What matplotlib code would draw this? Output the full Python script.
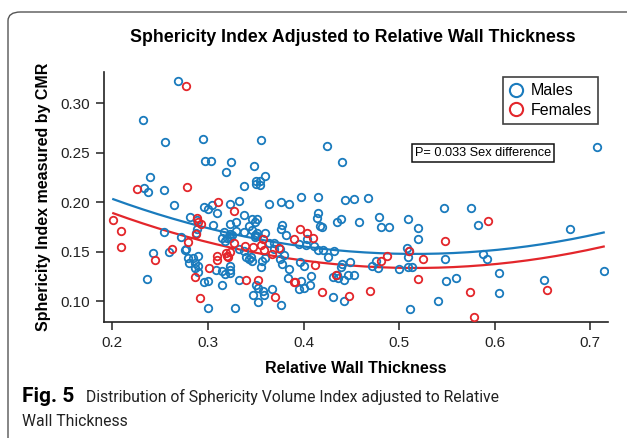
import numpy as np
import matplotlib
matplotlib.use("Agg")
from matplotlib import pyplot as plt
from matplotlib.patches import FancyBboxPatch

# Relative wall thickness / sphericity index
male_rwt = [0.269, 0.232, 0.255, 0.295, 0.356, 0.297, 0.303, 0.324, 0.348, 0.319,
            0.360, 0.239, 0.350, 0.354, 0.350, 0.355, 0.338, 0.233, 0.237, 0.254,
            0.425, 0.440, 0.707, 0.376, 0.397, 0.415, 0.443, 0.453, 0.467, 0.385,
            0.264, 0.296, 0.300, 0.304, 0.309, 0.323, 0.333, 0.364, 0.281, 0.289,
            0.289, 0.288, 0.305, 0.338, 0.346, 0.349, 0.351, 0.323, 0.329, 0.317,
            0.323, 0.329, 0.320, 0.315, 0.318, 0.323, 0.325, 0.338, 0.343, 0.346,
            0.349, 0.351, 0.360, 0.349, 0.351, 0.254, 0.272, 0.276, 0.277, 0.259,
            0.243, 0.236, 0.333, 0.338, 0.340, 0.345, 0.343, 0.346, 0.364, 0.369,
            0.369, 0.375, 0.357, 0.356, 0.360, 0.323, 0.323, 0.323, 0.318, 0.315,
            0.308, 0.279, 0.284, 0.290, 0.280, 0.286, 0.290, 0.286, 0.290, 0.296,
            0.300, 0.315, 0.333, 0.350, 0.352, 0.358, 0.359, 0.347, 0.352, 0.367,
            0.376, 0.300, 0.328, 0.376, 0.377, 0.382, 0.404, 0.395, 0.403, 0.411,
            0.415, 0.420, 0.432, 0.426, 0.415, 0.414, 0.417, 0.419, 0.435, 0.439,
            0.458, 0.479, 0.481, 0.489, 0.509, 0.520, 0.520, 0.547, 0.575, 0.583,
            0.679, 0.508, 0.510, 0.509, 0.476, 0.478, 0.472, 0.500, 0.509, 0.514,
            0.380, 0.375, 0.377, 0.385, 0.384, 0.395, 0.400, 0.397, 0.407, 0.408,
            0.400, 0.396, 0.440, 0.439, 0.449, 0.431, 0.436, 0.442, 0.447, 0.453,
            0.435, 0.431, 0.442, 0.511, 0.541, 0.549, 0.559, 0.548, 0.588, 0.592,
            0.604, 0.604, 0.652, 0.714]
male_si = [0.323, 0.283, 0.261, 0.264, 0.263, 0.242, 0.242, 0.241, 0.237, 0.231,
           0.227, 0.226, 0.222, 0.222, 0.218, 0.217, 0.216, 0.214, 0.210, 0.212,
           0.257, 0.241, 0.256, 0.200, 0.205, 0.205, 0.202, 0.203, 0.204, 0.198,
           0.197, 0.195, 0.193, 0.197, 0.189, 0.198, 0.201, 0.198, 0.185, 0.182,
           0.173, 0.169, 0.177, 0.187, 0.183, 0.180, 0.183, 0.178, 0.180, 0.170,
           0.168, 0.171, 0.164, 0.164, 0.161, 0.164, 0.167, 0.170, 0.176, 0.172,
           0.167, 0.169, 0.169, 0.165, 0.166, 0.170, 0.165, 0.152, 0.153, 0.150,
           0.149, 0.123, 0.153, 0.151, 0.145, 0.145, 0.143, 0.141, 0.159, 0.159,
           0.153, 0.153, 0.141, 0.135, 0.144, 0.136, 0.132, 0.129, 0.128, 0.131,
           0.132, 0.144, 0.144, 0.146, 0.139, 0.139, 0.136, 0.134, 0.130, 0.119,
           0.121, 0.116, 0.122, 0.116, 0.113, 0.110, 0.106, 0.106, 0.099, 0.112,
           0.096, 0.093, 0.093, 0.173, 0.177, 0.167, 0.163, 0.158, 0.157, 0.156,
           0.152, 0.152, 0.151, 0.145, 0.189, 0.184, 0.176, 0.175, 0.180, 0.183,
           0.180, 0.185, 0.175, 0.175, 0.183, 0.174, 0.163, 0.194, 0.194, 0.177,
           0.173, 0.154, 0.151, 0.145, 0.141, 0.134, 0.136, 0.133, 0.135, 0.135,
           0.147, 0.143, 0.138, 0.133, 0.124, 0.112, 0.113, 0.121, 0.116, 0.126,
           0.136, 0.140, 0.138, 0.135, 0.140, 0.125, 0.124, 0.122, 0.127, 0.127,
           0.127, 0.104, 0.100, 0.092, 0.100, 0.121, 0.124, 0.143, 0.148, 0.143,
           0.129, 0.108, 0.122, 0.131]

female_rwt = [0.277, 0.278, 0.226, 0.311, 0.327, 0.289, 0.290, 0.293, 0.288, 0.201,
              0.209, 0.209, 0.245, 0.262, 0.279, 0.327, 0.339, 0.347, 0.356, 0.359,
              0.358, 0.367, 0.374, 0.309, 0.310, 0.320, 0.321, 0.323, 0.319, 0.301,
              0.286, 0.340, 0.352, 0.370, 0.292, 0.396, 0.404, 0.410, 0.390, 0.390,
              0.391, 0.412, 0.419, 0.434, 0.448, 0.510, 0.481, 0.487, 0.525, 0.520,
              0.470, 0.548, 0.593, 0.574, 0.578, 0.655]
female_si = [0.317, 0.215, 0.213, 0.200, 0.191, 0.184, 0.180, 0.178, 0.168, 0.182,
             0.171, 0.155, 0.142, 0.153, 0.160, 0.159, 0.156, 0.155, 0.157, 0.152,
             0.163, 0.148, 0.154, 0.146, 0.142, 0.146, 0.145, 0.150, 0.149, 0.134,
             0.125, 0.122, 0.122, 0.104, 0.103, 0.173, 0.169, 0.164, 0.163, 0.120,
             0.119, 0.137, 0.109, 0.127, 0.105, 0.151, 0.141, 0.146, 0.143, 0.123,
             0.110, 0.161, 0.181, 0.109, 0.084, 0.111]

blue = '#1a7bbd'
red = '#e3262b'
plt.rcParams['font.family'] = ['Liberation Sans', 'DejaVu Sans']
cap_font = ['Roboto', 'DejaVu Sans']

xm, ym = np.array(male_rwt), np.array(male_si)
xf, yf = np.array(female_rwt), np.array(female_si)

# quadratic fit with a sex offset
xa = np.concatenate([xm, xf])
ya = np.concatenate([ym, yf])
sex = np.concatenate([np.zeros(len(xm)), np.ones(len(xf))])
A = np.column_stack([np.ones_like(xa), xa, xa ** 2, sex])
coef = np.linalg.lstsq(A, ya, rcond=None)[0]
xs = np.linspace(xa.min(), xa.max(), 200)
fit_m = coef[0] + coef[1] * xs + coef[2] * xs ** 2
fit_f = fit_m + coef[3]

fig = plt.figure(figsize=(6.27, 4.38), dpi=100)
fig.patches.append(FancyBboxPatch((8 / 627, -0.2), 1.2, 1.2 - 12 / 438,
                                  boxstyle='round,pad=0,rounding_size=0.02',
                                  transform=fig.transFigure, fill=False,
                                  edgecolor='#555555', linewidth=1.0))

ax = fig.add_axes([104 / 627, 116.3 / 438, 504 / 627, 249.7 / 438])
ax.plot(xs, fit_m, color=blue, lw=1.6, zorder=2)
ax.plot(xs, fit_f, color=red, lw=1.6, zorder=2)
ax.plot(xm, ym, 'o', mfc='none', mec=blue, mew=1.3, ms=5.4, zorder=3)
ax.plot(xf, yf, 'o', mfc='none', mec=red, mew=1.3, ms=5.4, zorder=3)

ax.set_xlim(0.1913, 0.7185)
ax.set_ylim(0.0794, 0.3316)
ax.set_xticks([0.2, 0.3, 0.4, 0.5, 0.6, 0.7])
ax.set_xticklabels(['0.2', '0.3', '0.4', '0.5', '0.6', '0.7'])
ax.set_yticks([0.10, 0.15, 0.20, 0.25, 0.30])
ax.set_yticklabels(['0.10', '0.15', '0.20', '0.25', '0.30'])
for s in ['top', 'right']:
    ax.spines[s].set_visible(False)
for s in ['left', 'bottom']:
    ax.spines[s].set_linewidth(1.2)
    ax.spines[s].set_color('#222222')
ax.tick_params(direction='out', length=6, width=1.1, labelsize=11,
               colors='#222222', pad=4)

ax.set_xlabel('Relative Wall Thickness', fontsize=11.5, fontweight='bold', labelpad=8)
ax.set_ylabel('Sphericity Index measured by CMR', fontsize=11.5, fontweight='bold',
              labelpad=7)
fig.text(353 / 627, 1 - 37 / 438, 'Sphericity Index Adjusted to Relative Wall Thickness',
         ha='center', va='center', fontsize=12.8, fontweight='bold')

h1, = ax.plot([], [], 'o', mfc='none', mec=blue, mew=1.5, ms=9.5)
h2, = ax.plot([], [], 'o', mfc='none', mec=red, mew=1.5, ms=9.5)
leg = ax.legend([h1, h2], ['Males', 'Females'], loc='upper right',
                bbox_to_anchor=(0.99, 1.0), fontsize=11.5, frameon=True,
                fancybox=False, handlelength=0.8, handletextpad=0.5,
                borderpad=0.4, labelspacing=0.3, borderaxespad=0.3)
leg.get_frame().set_edgecolor('#111111')
leg.get_frame().set_linewidth(1.2)

ax.text(0.5878, 0.2498, 'P= 0.033 Sex difference', ha='center', va='center',
        fontsize=9.2, bbox=dict(boxstyle='square,pad=0.25', fc='white',
                                ec='#111111', lw=1.1))

fig.text(22 / 627, 1 - 397 / 438, 'Fig. 5', fontsize=15, fontweight='bold',
         family=cap_font, va='center')
fig.text(86 / 627, 1 - 397 / 438,
         'Distribution of Sphericity Volume Index adjusted to Relative',
         fontsize=11.3, family=cap_font, va='center', color='#222222')
fig.text(22 / 627, 1 - 422 / 438, 'Wall Thickness',
         fontsize=11.3, family=cap_font, va='center', color='#222222')

fig.savefig('out.png', dpi=100)
